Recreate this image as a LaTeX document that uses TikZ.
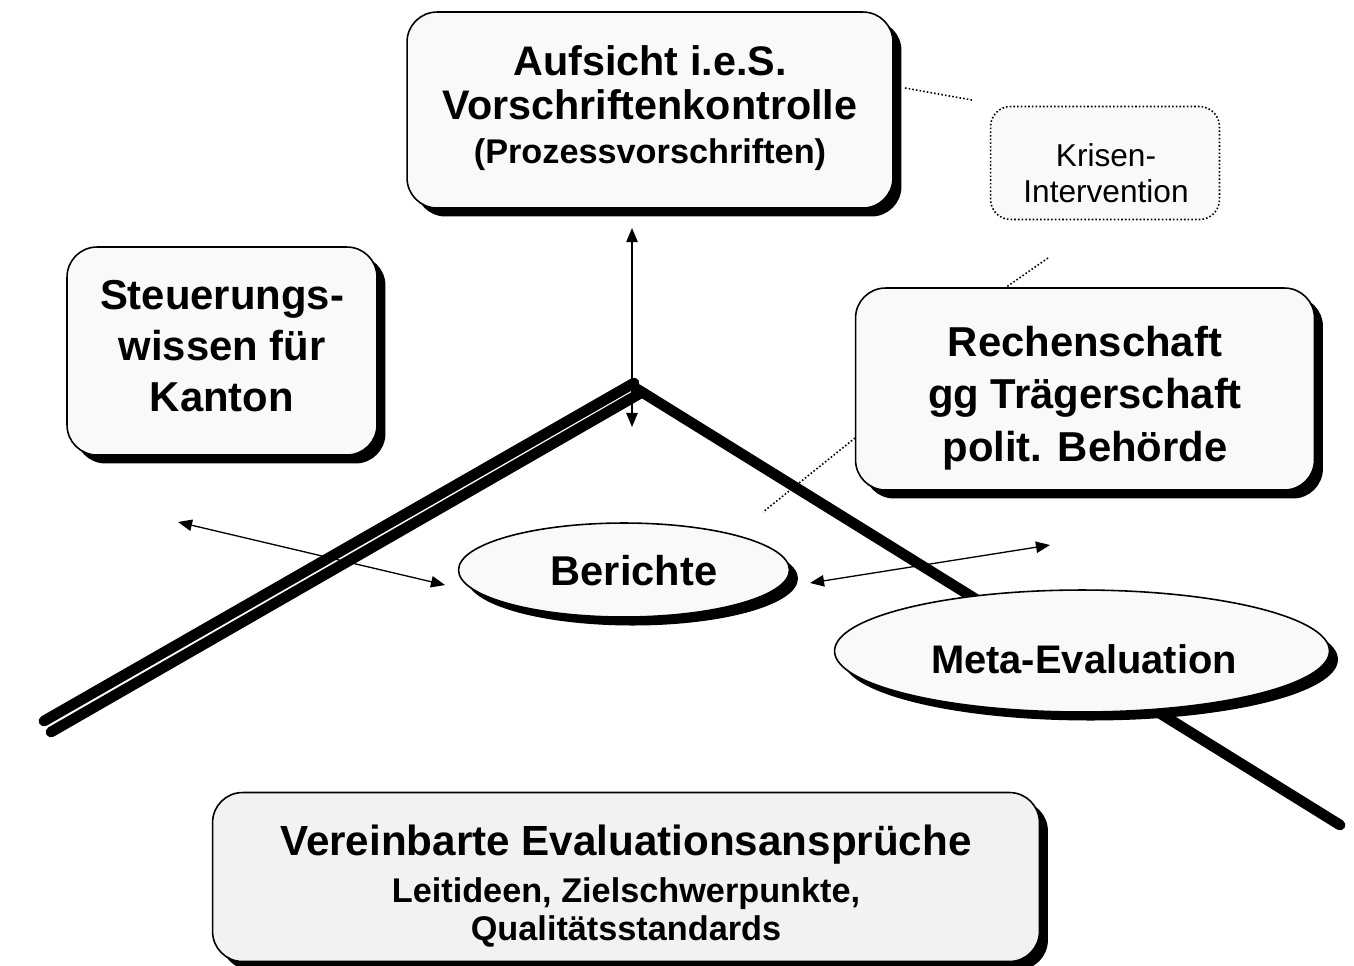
\documentclass[tikz,border=0pt]{standalone}
\usepackage{fontspec}
\setmainfont{Liberation Sans}
\usetikzlibrary{shapes.geometric,shadows,arrows.meta}

\tikzset{
  schatten/.style={drop shadow={shadow xshift=0.17cm, shadow yshift=-0.17cm, fill=black, opacity=1}},
  kasten/.style={draw, line width=0.9pt, rounded corners=0.6cm, fill=gray!5, inner sep=0pt, schatten},
  oval/.style={ellipse, draw, line width=0.9pt, fill=gray!5, inner sep=0pt, schatten},
  beschriftung/.style={align=center, inner sep=0pt},
  balken/.style={line width=6.1pt, line cap=round},
  pfeil/.style={line width=0.75pt, {Triangle[length=8pt,width=6.5pt]}-{Triangle[length=8pt,width=6.5pt]}},
  punkte/.style={line width=0.9pt, dash pattern=on 0.9pt off 1.2pt},
}

\begin{document}
\begin{tikzpicture}[x=0.02cm, y=-0.02cm]

    \useasboundingbox (0,0) rectangle (1354,965);

    % 1. Die beiden dicken Balken (links doppelt, rechts einfach)
    \coordinate (spitze) at (634,383);
    \coordinate (spitze2) at (639,394);
    \coordinate (linksA) at (44,721);
    \coordinate (linksB) at (51,732);
    \coordinate (spitze3) at (637,389);
    \coordinate (rechts) at (1340,825);
    \draw[balken] (spitze) -- (linksA);
    \draw[balken] (spitze2) -- (linksB);
    \draw[balken] (spitze3) -- (rechts);

    % 2. Kästen mit Schatten
    \node[kasten, minimum width=9.72cm, minimum height=3.92cm] (aufsicht) at (650,110) {};
    \node[beschriftung, font=\bfseries\fontsize{23.5}{25}\selectfont] (aufsichtText) at (650,108)
        {Aufsicht i.e.S.\\Vorschriftenkontrolle\\{\fontsize{19.5}{25}\selectfont (Prozessvorschriften)}};

    \node[kasten, minimum width=6.2cm, minimum height=4.16cm] (steuerung) at (222,351) {};
    \node[beschriftung, font=\bfseries\fontsize{23.8}{29}\selectfont] (steuerungText) at (222,346)
        {Steuerungs-\\wissen für\\Kanton};

    \node[kasten, minimum width=9.18cm, minimum height=4.04cm] (rechenschaft) at (1085,389) {};
    \node[beschriftung, font=\bfseries\fontsize{23.8}{30}\selectfont] (rechenschaftText) at (1085,398)
        {Rechenschaft\\gg Trägerschaft\\polit. Behörde};

    \node[kasten, fill=gray!10, minimum width=16.54cm, minimum height=3.38cm] (vereinbart) at (626,877) {};
    \node[beschriftung, font=\bfseries\fontsize{24}{21.5}\selectfont] (vereinbartText) at (626,886)
        {Vereinbarte Evaluationsansprüche\\[5.5pt]
         {\fontsize{19.5}{21.5}\selectfont Leitideen, Zielschwerpunkte,}\\
         {\fontsize{19.5}{21.5}\selectfont Qualitätsstandards}};

    % 3. Krisen-Intervention (gepunktet, ohne Schatten)
    \node[draw, punkte, rounded corners=0.4cm, fill=gray!5,
          minimum width=4.58cm, minimum height=2.26cm] (krisen) at (1105,163) {};
    \node[beschriftung, font=\fontsize{18}{20.5}\selectfont] (krisenText) at (1106,173)
        {Krisen-\\Intervention};

    % 4. Ellipsen
    \node[oval, minimum width=6.62cm, minimum height=1.88cm] (berichte) at (624,570) {};
    \node[beschriftung, font=\bfseries\fontsize{23.7}{28}\selectfont] (berichteText) at (634,571) {Berichte};
    \node[oval, minimum width=9.9cm, minimum height=2.44cm] (meta) at (1082,651) {};
    \node[beschriftung, font=\bfseries\fontsize{22.7}{27}\selectfont] (metaText) at (1084,659) {Meta-Evaluation};

    % 5. Doppelpfeile
    \coordinate (obenP) at (632,228);
    \coordinate (untenP) at (632,427);
    \coordinate (linksP) at (178,522);
    \coordinate (linksQ) at (445,585);
    \coordinate (rechtsP) at (810,583);
    \coordinate (rechtsQ) at (1050,545);
    \draw[pfeil] (obenP) -- (untenP);
    \draw[pfeil] (linksP) -- (linksQ);
    \draw[pfeil] (rechtsP) -- (rechtsQ);

    % 6. gepunktete Verbindungen zur Krisen-Intervention
    \coordinate (k1) at (905,88);
    \coordinate (k2) at (972,100);
    \coordinate (k3) at (1048,258);
    \coordinate (k4) at (1005,288);
    \coordinate (k5) at (855,438);
    \coordinate (k6) at (763,512);
    \draw[punkte] (k1) -- (k2);
    \draw[punkte] (k3) -- (k4);
    \draw[punkte] (k5) -- (k6);

\end{tikzpicture}
\end{document}
